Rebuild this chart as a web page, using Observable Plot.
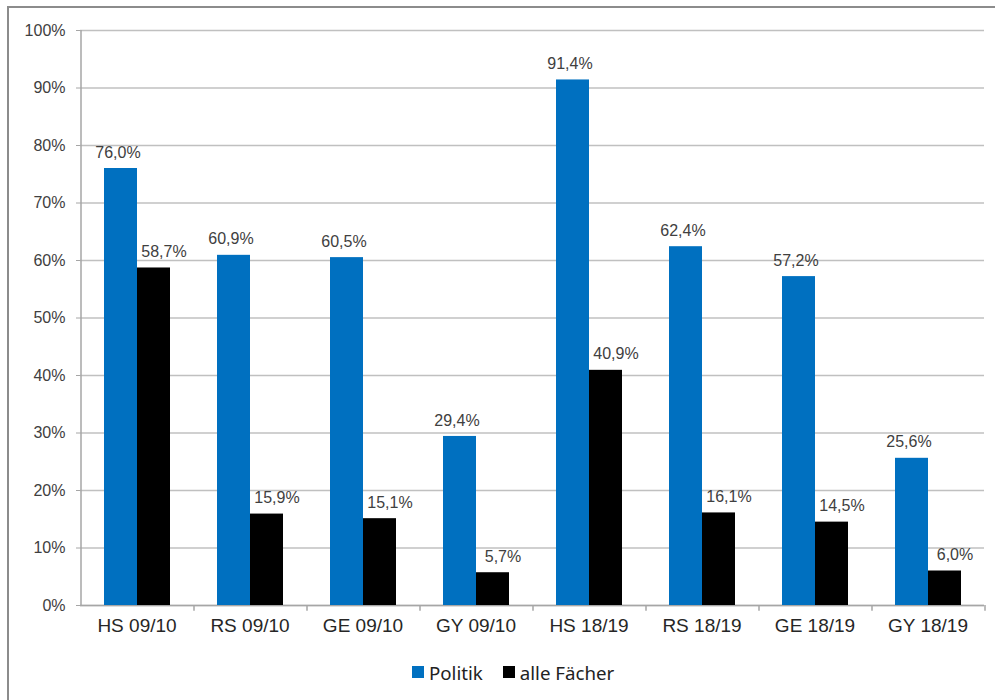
<!DOCTYPE html>
<html>
<head>
<meta charset="utf-8">
<script src="https://cdn.jsdelivr.net/npm/d3@7"></script>
<script src="https://cdn.jsdelivr.net/npm/@observablehq/plot@0.6"></script>
<style>
  html, body { margin: 0; padding: 0; background: #fff; }
  body { width: 995px; height: 700px; overflow: hidden; position: relative; font-family: "Liberation Sans", Arial, sans-serif; }
  #frame { position: absolute; left: 7px; top: 6px; width: 1100px; height: 800px; border-left: 2px solid #8c8c8c; border-top: 2px solid #8c8c8c; box-sizing: border-box; }
  #chart { position: absolute; left: 0; top: 0; }
  #legend { position: absolute; left: 412px; top: 660px; height: 24px; display: flex; align-items: center; font-family: "Noto Sans", sans-serif; font-size: 18.7px; color: #222; }
  .item { display: flex; align-items: center; margin-right: 20px; }
  .sw { width: 12px; height: 12px; margin-right: 5px; }
</style>
</head>
<body>
<div id="frame"></div>
<div id="chart"></div>
<div id="legend"></div>
<script>
const categories = ["HS 09/10", "RS 09/10", "GE 09/10", "GY 09/10", "HS 18/19", "RS 18/19", "GE 18/19", "GY 18/19"];
const series = ["Politik", "alle Fächer"];
const politik = [76.0, 60.9, 60.5, 29.4, 91.4, 62.4, 57.2, 25.6];
const alleFaecher = [58.7, 15.9, 15.1, 5.7, 40.9, 16.1, 14.5, 6.0];
const colors = ["#0070C0", "#000000"];
const yTicks = [0, 10, 20, 30, 40, 50, 60, 70, 80, 90, 100];

const data = categories.flatMap((c, i) => [
  {category: c, series: series[0], value: politik[i]},
  {category: c, series: series[1], value: alleFaecher[i]}
]);
const fmt = v => v.toFixed(1).replace(".", ",") + "%";

const leftEdges = categories.map((c, i) => ({category: c, first: i === 0}));
const lastEdge = [{category: categories[categories.length - 1]}];

const chart = Plot.plot({
  width: 995,
  height: 650,
  marginLeft: 80,
  marginRight: 11,
  marginTop: 30,
  marginBottom: 45,
  style: {fontFamily: "'Liberation Sans', Arial, sans-serif", fontSize: "16px", color: "#404040", background: "transparent", overflow: "visible"},
  fx: {domain: categories, padding: 0, label: null, axis: null},
  x: {domain: series, paddingInner: 0, paddingOuter: 0.71, axis: null},
  y: {domain: [0, 100], axis: null},
  color: {domain: series, range: colors},
  marks: [
    Plot.gridY(yTicks, {stroke: "#c0c0c0", strokeOpacity: 1, strokeWidth: 1.5}),
    Plot.axisY(yTicks, {tickFormat: d => d + "%", tickSize: 4, tickPadding: 11, fontSize: 16, stroke: "#a6a6a6", fill: "#404040", label: null}),
    Plot.ruleY([0], {stroke: "#a6a6a6", strokeWidth: 1.5}),
    Plot.ruleX(leftEdges.filter(d => d.first), {fx: "category", x: () => series[0], dx: -40, y1: 0, y2: 100, stroke: "#a6a6a6", strokeWidth: 1.5}),
    Plot.ruleX(leftEdges.filter(d => !d.first), {fx: "category", x: () => series[0], dx: -40, y1: 0, y2: -1, stroke: "#a6a6a6", strokeWidth: 1.5}),
    Plot.ruleX(lastEdge, {fx: "category", x: () => series[1], dx: 40, y1: 0, y2: -1, stroke: "#a6a6a6", strokeWidth: 1.5}),
    Plot.barY(data, {fx: "category", x: "series", y: "value", fill: "series"}),
    Plot.text(data.filter(d => d.series === series[0]), {fx: "category", x: "series", y: "value", text: d => fmt(d.value), dy: -16, dx: -3, fill: "#404040", fontSize: 16}),
    Plot.text(data.filter(d => d.series === series[1]), {fx: "category", x: "series", y: "value", text: d => fmt(d.value), dy: -16, dx: 10, fill: "#404040", fontSize: 16}),
    Plot.axisFx({anchor: "bottom", tickSize: 0, tickPadding: 13, fontSize: 19, fill: "#262626", label: null})
  ]
});
document.getElementById("chart").appendChild(chart);

const legend = document.getElementById("legend");
series.forEach((s, i) => {
  const item = document.createElement("div");
  item.className = "item";
  const sw = document.createElement("div");
  sw.className = "sw";
  sw.style.background = colors[i];
  const lab = document.createElement("span");
  lab.textContent = s;
  item.appendChild(sw);
  item.appendChild(lab);
  legend.appendChild(item);
});
</script>
</body>
</html>
